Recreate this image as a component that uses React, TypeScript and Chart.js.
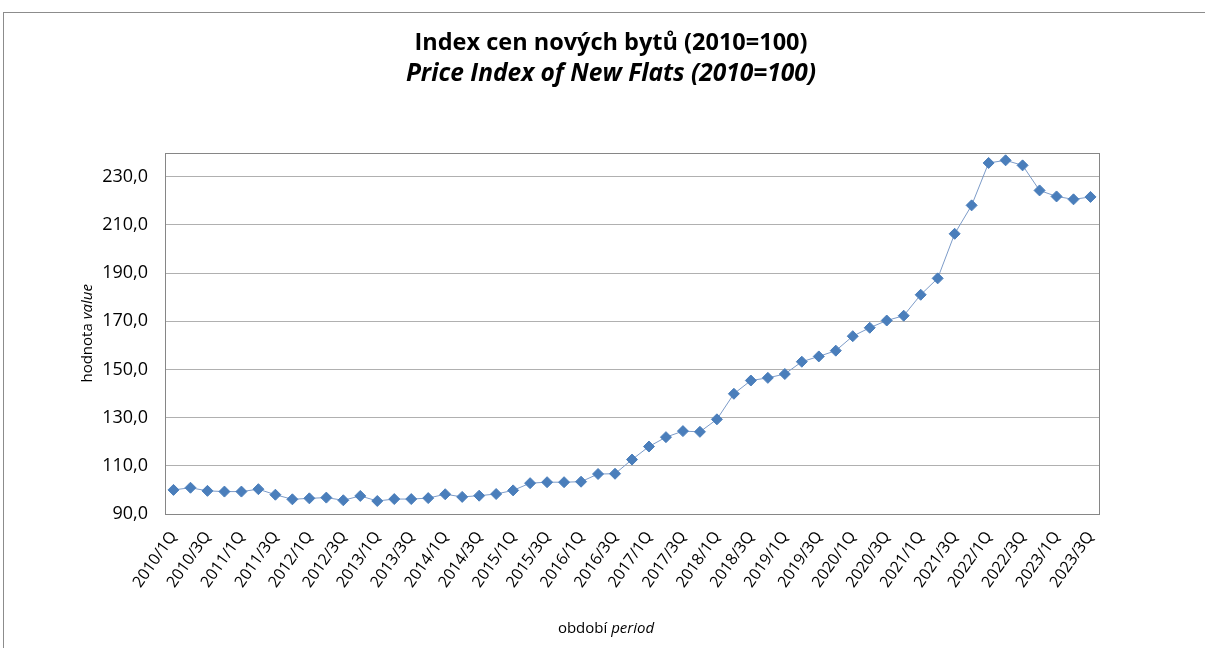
import React, { useEffect, useRef } from "react";
import { Chart, registerables } from "chart.js";

Chart.register(...registerables);

const QUARTERS: string[] = [
  "2010/1Q", "2010/2Q", "2010/3Q", "2010/4Q",
  "2011/1Q", "2011/2Q", "2011/3Q", "2011/4Q",
  "2012/1Q", "2012/2Q", "2012/3Q", "2012/4Q",
  "2013/1Q", "2013/2Q", "2013/3Q", "2013/4Q",
  "2014/1Q", "2014/2Q", "2014/3Q", "2014/4Q",
  "2015/1Q", "2015/2Q", "2015/3Q", "2015/4Q",
  "2016/1Q", "2016/2Q", "2016/3Q", "2016/4Q",
  "2017/1Q", "2017/2Q", "2017/3Q", "2017/4Q",
  "2018/1Q", "2018/2Q", "2018/3Q", "2018/4Q",
  "2019/1Q", "2019/2Q", "2019/3Q", "2019/4Q",
  "2020/1Q", "2020/2Q", "2020/3Q", "2020/4Q",
  "2021/1Q", "2021/2Q", "2021/3Q", "2021/4Q",
  "2022/1Q", "2022/2Q", "2022/3Q", "2022/4Q",
  "2023/1Q", "2023/2Q", "2023/3Q",
];

const INDEX_VALUES: number[] = [
  100.0, 100.9, 99.6, 99.3,
  99.3, 100.3, 98.0, 96.1,
  96.5, 96.8, 95.7, 97.5,
  95.4, 96.2, 96.2, 96.6,
  98.2, 97.1, 97.6, 98.3,
  99.8, 102.8, 103.2, 103.2,
  103.4, 106.6, 106.7, 112.6,
  118.0, 121.9, 124.4, 124.1,
  129.3, 139.9, 145.4, 146.5,
  148.1, 153.2, 155.4, 157.8,
  163.8, 167.3, 170.3, 172.3,
  181.0, 187.8, 206.3, 218.1,
  235.7, 236.8, 234.7, 224.3,
  221.8, 220.6, 221.6,
];

const Y_TICKS: number[] = [90, 110, 130, 150, 170, 190, 210, 230];

const TITLE_CZ = "Index cen nových bytů (2010=100)";
const TITLE_EN = "Price Index of New Flats (2010=100)";
const Y_TITLE_CZ = "hodnota ";
const Y_TITLE_EN = "value";
const X_TITLE_CZ = "období ";
const X_TITLE_EN = "period";

const FONT = "'Open Sans', sans-serif";

const framePlugin = {
  id: "plotFrame",
  beforeDatasetsDraw(chart: any) {
    const { ctx, chartArea } = chart;
    ctx.save();
    ctx.strokeStyle = "#868686";
    ctx.lineWidth = 1;
    ctx.strokeRect(
      Math.round(chartArea.left) + 0.5,
      Math.round(chartArea.top) + 0.5,
      Math.round(chartArea.right - chartArea.left),
      Math.round(chartArea.bottom - chartArea.top)
    );
    ctx.restore();
  },
};

function drawMixed(ctx: CanvasRenderingContext2D, a: string, b: string, size: number) {
  ctx.font = `normal ${size}px ${FONT}`;
  const wa = ctx.measureText(a).width;
  ctx.font = `italic ${size}px ${FONT}`;
  const wb = ctx.measureText(b).width;
  const start = -(wa + wb) / 2;
  ctx.textAlign = "left";
  ctx.textBaseline = "middle";
  ctx.font = `normal ${size}px ${FONT}`;
  ctx.fillText(a, start, 0);
  ctx.font = `italic ${size}px ${FONT}`;
  ctx.fillText(b, start + wa, 0);
}

const axisTitlePlugin = {
  id: "mixedAxisTitles",
  afterDraw(chart: any) {
    const { ctx, chartArea } = chart;
    ctx.save();
    ctx.fillStyle = "#000000";
    ctx.save();
    ctx.translate(88, (chartArea.top + chartArea.bottom) / 2);
    ctx.rotate(-Math.PI / 2);
    drawMixed(ctx, Y_TITLE_CZ, Y_TITLE_EN, 15);
    ctx.restore();
    ctx.save();
    ctx.translate(606, 629);
    drawMixed(ctx, X_TITLE_CZ, X_TITLE_EN, 15);
    ctx.restore();
    ctx.restore();
  },
};

export default function App() {
  const canvasRef = useRef<HTMLCanvasElement | null>(null);

  useEffect(() => {
    if (!canvasRef.current) return;
    const chart = new Chart(canvasRef.current, {
      type: "line",
      data: {
        labels: QUARTERS,
        datasets: [
          {
            data: INDEX_VALUES,
            yAxisID: "y",
            borderColor: "#7c9bc8",
            borderWidth: 1,
            pointStyle: "rectRot",
            pointRadius: 5.5,
            pointBackgroundColor: "#4a7ebb",
            pointBorderColor: "#4a7ebb",
            pointBorderWidth: 1,
            tension: 0,
            fill: false,
          },
        ],
      },
      options: {
        responsive: false,
        animation: false,
        layout: { padding: { left: 17, right: 0, top: 0, bottom: 0 } },
        plugins: {
          legend: { display: false },
          tooltip: { enabled: false },
          title: {
            display: true,
            text: TITLE_CZ,
            color: "#000000",
            font: { family: FONT, size: 23.5, weight: "bold" },
            padding: { top: 29, bottom: 2 },
          },
          subtitle: {
            display: true,
            text: TITLE_EN,
            color: "#000000",
            font: { family: FONT, size: 24.5, weight: "bold", style: "italic" },
            padding: { top: 0, bottom: 64 },
          },
        },
        scales: {
          x: {
            type: "category",
            offset: true,
            grid: { display: false, drawTicks: false },
            border: { display: false },
            ticks: {
              autoSkip: false,
              minRotation: 55,
              maxRotation: 55,
              padding: 14,
              color: "#000000",
              font: { family: FONT, size: 16 },
              callback: (_v: any, i: number) => (i % 2 === 0 ? QUARTERS[i] : ""),
            },
            afterFit: (scale: any) => {
              scale.height = 134;
            },
          },
          y: {
            position: "left",
            min: 90,
            max: 240,
            grid: { color: "#b0b0b0", drawTicks: false, lineWidth: 1 },
            border: { display: false },
            afterBuildTicks: (scale: any) => {
              scale.ticks = Y_TICKS.map((v) => ({ value: v }));
            },
            ticks: {
              padding: 17,
              color: "#000000",
              font: { family: FONT, size: 18 },
              callback: (v: any) => Number(v).toFixed(1).replace(".", ","),
            },
            afterFit: (scale: any) => {
              scale.width = 148;
            },
          },
          yRightSpace: {
            position: "right",
            display: true,
            min: 90,
            max: 240,
            grid: { display: false, drawTicks: false },
            border: { display: false },
            ticks: { display: false },
            afterFit: (scale: any) => {
              scale.width = 106;
            },
          },
        },
      },
      plugins: [framePlugin, axisTitlePlugin],
    });
    return () => chart.destroy();
  }, []);

  return (
    <div
      style={{
        position: "absolute",
        left: 0,
        top: 0,
        width: 1205,
        height: 648,
        overflow: "hidden",
        background: "#ffffff",
      }}
    >
      <div
        style={{
          position: "absolute",
          left: 3,
          top: 12,
          width: 1400,
          height: 800,
          border: "1px solid #8c8c8c",
        }}
      />
      <canvas
        ref={canvasRef}
        width={1205}
        height={648}
        style={{ position: "absolute", left: 0, top: 0 }}
      />
    </div>
  );
}
